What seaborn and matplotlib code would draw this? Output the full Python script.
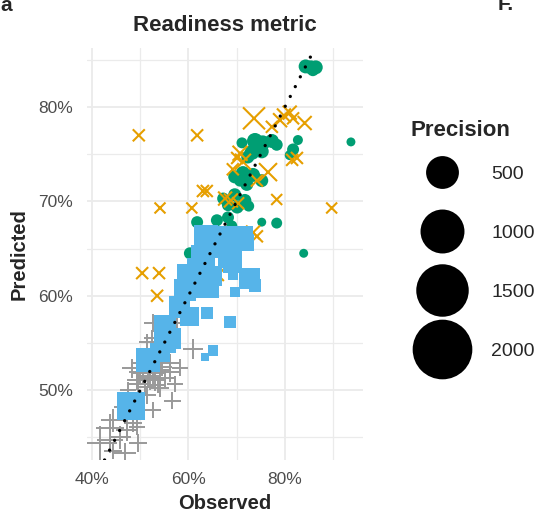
import numpy as np
import pandas as pd
import matplotlib
matplotlib.use("Agg")
import matplotlib.pyplot as plt
from matplotlib.lines import Line2D
from matplotlib.legend_handler import HandlerLine2D
from matplotlib.ticker import FixedLocator, FuncFormatter
import seaborn as sns

# ---------------- data (percent) ----------------
green_obs = [84.3, 85.4, 86.4, 85.8, 93.7, 71.1, 73.8, 75.4, 77.3, 78.3, 73.2, 75.2, 72.3, 82.7, 81.7, 81.0,
             69.6, 71.3, 73.4, 75.2, 72.1, 70.7, 67.2, 69.6, 71.7, 70.1, 68.2, 72.5, 65.9, 68.2, 69.0, 61.8,
             75.2, 78.3, 83.9, 60.3]
green_pred = [84.3, 84.2, 84.2, 83.9, 76.3, 76.2, 76.4, 76.2, 76.4, 76.0, 75.2, 75.3, 74.7, 76.5, 75.5, 74.9,
              72.6, 73.0, 72.8, 72.2, 71.8, 72.2, 70.3, 70.7, 70.1, 69.4, 69.6, 69.5, 68.0, 68.3, 67.4, 67.8,
              67.8, 67.7, 64.5, 64.5]
green_prec = [44, 44, 44, 25, 6, 17, 69, 56, 44, 25, 56, 44, 34, 11, 25, 11,
              34, 44, 44, 34, 34, 25, 25, 34, 34, 34, 25, 17, 25, 25, 17, 25,
              6, 17, 6, 25]

orange_obs = [49.7, 61.8, 73.6, 79.8, 81.0, 79.0, 81.7, 84.1, 77.3, 70.7, 70.1, 71.3, 82.5, 69.2, 76.5, 74.2,
              63.0, 63.8, 67.6, 68.8, 70.3, 78.3, 54.1, 60.7, 89.7, 73.4, 74.2, 50.4, 53.9, 53.5, 66.1, 81.5]
orange_pred = [77.0, 77.0, 78.8, 79.1, 79.4, 78.6, 78.8, 78.3, 77.9, 75.1, 74.6, 74.2, 74.6, 73.4, 73.1, 72.2,
               71.1, 71.1, 70.3, 70.1, 69.8, 70.2, 69.3, 69.3, 69.3, 66.7, 66.3, 62.4, 62.4, 60.0, 62.2, 74.4]
orange_prec = [25, 25, 178, 44, 44, 44, 25, 44, 25, 56, 25, 69, 25, 25, 100, 25,
               25, 25, 44, 44, 25, 17, 17, 17, 17, 44, 25, 25, 25, 25, 25, 25]

blue_obs = [63.6, 67.4, 71.1, 71.9, 63.0, 68.6, 69.0, 60.3, 64.0, 64.9, 59.3, 69.2, 72.7, 73.8, 69.6,
            58.2, 60.3, 63.8, 68.6, 55.1, 56.2, 55.1, 51.6, 54.1, 65.1, 63.4, 48.1, 62.0, 65.5]
blue_pred = [66.3, 66.1, 66.3, 65.6, 64.1, 64.2, 63.3, 62.0, 61.0, 62.1, 60.6, 62.2, 61.8, 61.1, 60.4,
             58.8, 57.8, 58.2, 57.2, 56.8, 55.5, 55.1, 53.2, 54.0, 54.2, 53.5, 48.3, 62.9, 65.0]
blue_prec = [290, 290, 230, 120, 290, 290, 120, 360, 290, 170, 230, 22, 230, 45, 22,
             230, 170, 45, 45, 230, 230, 230, 290, 170, 22, 8, 470, 230, 170]

grey_obs = [52.6, 57.6, 52.4, 51.4, 60.9, 49.9, 56.2, 58.2, 50.6, 52.6, 49.3, 52.0, 54.1, 51.0, 56.6, 46.4,
            44.4, 48.5, 47.3, 49.3, 43.7, 41.7, 45.8, 49.5, 44.4, 46.8, 52.6, 53.1, 51.4, 53.7, 43.7,
            48.3, 49.9, 51.6, 53.1, 54.5, 55.1, 56.2, 49.5, 54.1, 47.5, 52.0, 57.2]
grey_pred = [57.1, 57.1, 55.5, 55.1, 54.4, 52.9, 52.9, 52.4, 51.8, 51.8, 51.1, 51.3, 52.1, 50.3, 48.9, 48.2,
             46.8, 46.5, 45.8, 46.1, 44.7, 44.4, 45.0, 44.4, 43.6, 43.3, 47.9, 53.7, 49.5, 50.5, 46.0,
             52.3, 51.9, 51.5, 51.1, 52.5, 51.3, 51.9, 50.6, 50.2, 50.0, 52.6, 50.7]
grey_prec = [30, 30, 20, 20, 45, 30, 30, 20, 65, 65, 45, 90, 30, 30, 25, 30,
             80, 30, 60, 20, 110, 225, 70, 30, 30, 60, 20, 20, 30, 20, 130,
             45, 65, 85, 65, 45, 31, 46, 46, 31, 20, 46, 20]

legend_breaks = [500, 1000, 1500, 2000]
x_ticks = [40, 60, 80]
y_ticks = [50, 60, 70, 80]

# ---------------- styling ----------------
sns.set_theme(style="white")
plt.rcParams['font.family'] = ['Liberation Sans', 'DejaVu Sans']

DPI = 100
fig = plt.figure(figsize=(5.36, 5.18), dpi=DPI)
ax = fig.add_axes([87 / 536, 1 - 460 / 518, (363 - 87) / 536, (460 - 48) / 518])


def diam_pt(p):
    d_px = 6 + 1.2 * np.sqrt(p)
    return d_px * 72 / DPI


def size_map(values, factor):
    return {v: (diam_pt(v) * factor) ** 2 for v in sorted(set(values))}


groups = [
    ("green", green_obs, green_pred, green_prec, "o", "#009E73", 1.0, 0),
    ("orange", orange_obs, orange_pred, orange_prec, "x", "#E69F00", 1.0, 1.5),
    ("grey", grey_obs, grey_pred, grey_prec, "+", "#999999", 1.414, 1.4),
    ("blue", blue_obs, blue_pred, blue_prec, "s", "#56B4E9", 0.886, 0),
]

for name, xo, yp, pr, mk, col, fac, lw in groups:
    df = pd.DataFrame({"Observed": xo, "Predicted": yp, "Precision": pr})
    kw = dict(data=df, x="Observed", y="Predicted", size="Precision",
              sizes=size_map(pr, fac), marker=mk, color=col, legend=False, ax=ax)
    sns.scatterplot(**kw, linewidth=lw, alpha=1)

ax.axline((50, 50), slope=1, color="black", lw=2.4, linestyle=(0, (0.01, 3.3)),
          dash_capstyle="round", zorder=5)

ax.set_xlim(38.96, 96.2)
ax.set_ylim(42.6, 86.25)

ax.xaxis.set_major_locator(FixedLocator(x_ticks))
ax.yaxis.set_major_locator(FixedLocator(y_ticks))
ax.xaxis.set_minor_locator(FixedLocator([50, 70, 90]))
ax.yaxis.set_minor_locator(FixedLocator([45, 55, 65, 75, 85]))
fmt = FuncFormatter(lambda v, pos: f"{v:.0f}%")
ax.xaxis.set_major_formatter(fmt)
ax.yaxis.set_major_formatter(fmt)
ax.grid(which="major", color="#EBEBEB", lw=1.3)
ax.grid(which="minor", color="#EBEBEB", lw=0.9)
ax.set_axisbelow(True)
for s in ax.spines.values():
    s.set_visible(False)
ax.tick_params(axis="x", which="both", length=0, labelsize=12.5, labelcolor="#4D4D4D", pad=9)
ax.tick_params(axis="y", which="both", length=0, labelsize=12.5, labelcolor="#4D4D4D", pad=10)

ax.set_xlabel("Observed", fontsize=14.5, fontweight="bold", labelpad=5)
ax.set_ylabel("Predicted", fontsize=14.5, fontweight="bold", labelpad=7)
ax.set_title("Readiness metric", fontsize=16, fontweight="bold", pad=12)

fig.text(0.0, 1.0 + 4 / 518, "a", fontsize=15, fontweight="bold", ha="left", va="top")
fig.text(498 / 536, 1.0 + 5 / 518, "F.", fontsize=15, fontweight="bold", ha="left", va="top")


class CenteredHandler(HandlerLine2D):
    """Put the legend key at the vertical centre of its label."""
    def create_artists(self, legend, orig_handle, xdescent, ydescent, width, height,
                       fontsize, trans):
        artists = super().create_artists(legend, orig_handle, xdescent, ydescent,
                                         width, height, fontsize, trans)
        for a in artists:
            yd = np.asarray(a.get_ydata(), dtype=float)
            a.set_ydata(np.full_like(yd, 0.36 * fontsize))
        return artists


handles = [Line2D([], [], linestyle="none", marker="o", color="black",
                  markersize=diam_pt(b), markeredgewidth=0) for b in legend_breaks]
leg = fig.legend(handles, [str(b) for b in legend_breaks], title="Precision",
                 loc="upper left", bbox_to_anchor=(411 / 536, 1 - 120 / 518),
                 frameon=False, fontsize=14, title_fontsize=16,
                 handlelength=3.2, handleheight=3.84, labelspacing=0.3,
                 handletextpad=0.93, borderpad=0, borderaxespad=0, alignment="left",
                 handler_map={Line2D: CenteredHandler()})
leg.get_title().set_fontweight("bold")

fig.savefig("out.png", dpi=DPI)
